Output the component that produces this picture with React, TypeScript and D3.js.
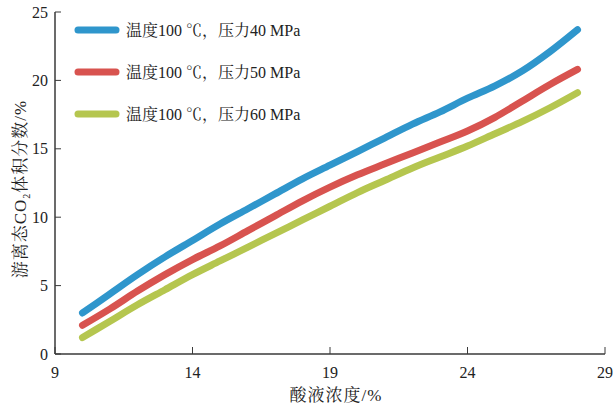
import React from "react";
import * as d3 from "d3";

// Acid concentration (%) sampled along each curve
const acidConc = [10, 11, 12, 13, 14, 15, 16, 17, 18, 19, 20, 21, 22, 23, 24, 25, 26, 27, 28];

// Free CO2 volume fraction (%) for each pressure
const p40 = [3.0, 4.4, 5.8, 7.1, 8.3, 9.5, 10.6, 11.7, 12.8, 13.8, 14.8, 15.8, 16.8, 17.7, 18.7, 19.6, 20.7, 22.1, 23.7];
const p50 = [2.1, 3.3, 4.6, 5.8, 6.9, 7.9, 9.0, 10.1, 11.2, 12.2, 13.1, 13.9, 14.7, 15.5, 16.3, 17.3, 18.5, 19.7, 20.8];
const p60 = [1.2, 2.4, 3.6, 4.7, 5.8, 6.8, 7.8, 8.8, 9.8, 10.8, 11.8, 12.7, 13.6, 14.4, 15.2, 16.1, 17.0, 18.0, 19.1];

const seriesNames = ["温度100 ℃，压力40 MPa", "温度100 ℃，压力50 MPa", "温度100 ℃，压力60 MPa"];
const seriesColors = ["#2f96cc", "#d8534f", "#b5c64f"];
const xTicks = [9, 14, 19, 24, 29];
const yTicks = [0, 5, 10, 15, 20, 25];

const W = 616;
const H = 405;
const left = 55;
const right = 605;
const top = 12;
const bottom = 354;

const serif = "'Liberation Serif', 'Times New Roman', 'Noto Serif CJK SC', 'Noto Sans CJK SC', serif";
const axisColor = "#3a3a3a";

export default function App() {
  const x = d3.scaleLinear().domain([9, 29]).range([left, right]);
  const y = d3.scaleLinear().domain([0, 25]).range([bottom, top]);
  const line = d3
    .line<number>()
    .x((_, i) => x(acidConc[i]))
    .y((v) => y(v))
    .curve(d3.curveMonotoneX);

  const all = [p40, p50, p60];

  return (
    <svg
      width={W}
      height={H}
      style={{ position: "absolute", left: 0, top: 0, background: "#fff" }}
      fontFamily={serif}
    >
      {/* curves */}
      {all.map((s, k) => (
        <path
          key={k}
          d={line(s) || ""}
          fill="none"
          stroke={seriesColors[k]}
          strokeWidth={7}
          strokeLinecap="round"
          strokeLinejoin="round"
        />
      ))}

      {/* axes */}
      <line x1={left} y1={top} x2={left} y2={bottom} stroke={axisColor} strokeWidth={1.5} />
      <line x1={left} y1={bottom} x2={right} y2={bottom} stroke={axisColor} strokeWidth={1.5} />

      {yTicks.map((t) => (
        <g key={"y" + t}>
          <line x1={left} x2={left + 6} y1={y(t)} y2={y(t)} stroke={axisColor} strokeWidth={1} />
          <text x={left - 7} y={y(t)} dy="0.35em" textAnchor="end" fontSize={16} fill="#222">
            {t}
          </text>
        </g>
      ))}
      {xTicks.map((t) => (
        <g key={"x" + t}>
          <line x1={x(t)} x2={x(t)} y1={bottom} y2={bottom - 7} stroke={axisColor} strokeWidth={1} />
          <text x={x(t)} y={378} textAnchor="middle" fontSize={16} fill="#222">
            {t}
          </text>
        </g>
      ))}

      {/* axis titles */}
      <text x={336} y={401} textAnchor="middle" fontSize={17} letterSpacing={1} fill="#222">
        酸液浓度/%
      </text>
      <text
        transform="translate(26,189) rotate(-90)"
        textAnchor="middle"
        fontSize={17}
        letterSpacing={1}
        fill="#222"
      >
        游离态CO
        <tspan fontSize={10} dy={4}>2</tspan>
        <tspan dy={-4}>体积分数/%</tspan>
      </text>

      {/* legend */}
      {seriesNames.map((name, k) => {
        const ly = 30 + k * 42;
        return (
          <g key={"l" + k}>
            <line
              x1={78}
              x2={116}
              y1={ly}
              y2={ly}
              stroke={seriesColors[k]}
              strokeWidth={7}
              strokeLinecap="round"
            />
            <text x={126} y={ly} dy="0.35em" fontSize={16} fill="#222">
              {name}
            </text>
          </g>
        );
      })}
    </svg>
  );
}
